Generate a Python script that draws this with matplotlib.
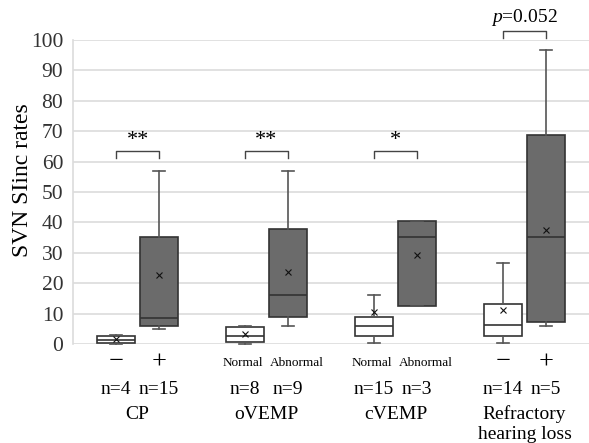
import matplotlib
matplotlib.use("Agg")
import matplotlib.pyplot as plt
import matplotlib.transforms as mtransforms

plt.rcParams['font.family'] = ['Liberation Serif', 'DejaVu Serif']
plt.rcParams['mathtext.fontset'] = 'custom'
plt.rcParams['mathtext.rm'] = 'Liberation Serif'
plt.rcParams['mathtext.it'] = 'Liberation Serif:italic'

# -----------------------------
# Data
# -----------------------------
groups = ["CP", "oVEMP", "cVEMP", "Refractory\nhearing loss"]
sub_labels = ["\u2212", "+", "Normal", "Abnormal", "Normal", "Abnormal", "\u2212", "+"]
n_labels = ["n=4", "n=15", "n=8", "n=9", "n=15", "n=3", "n=14", "n=5"]
positions = [0, 1, 3, 4, 6, 7, 9, 10]

whislo = [0.0, 4.9, 0.0, 6.0, 0.2, 12.5, 0.2, 6.0]
q1 = [0.3, 6.0, 0.5, 8.8, 2.6, 12.5, 2.5, 7.3]
med = [1.3, 8.7, 2.6, 16.0, 6.0, 35.3, 6.3, 35.3]
q3 = [2.5, 35.3, 5.7, 37.8, 8.9, 40.5, 13.2, 68.6]
whishi = [2.8, 56.9, 6.0, 56.9, 16.1, 40.5, 26.6, 96.7]
means = [1.5, 22.6, 3.3, 23.6, 10.6, 29.4, 11.2, 37.5]
fills = ["white", "#6b6b6b", "white", "#6b6b6b", "white", "#6b6b6b", "white", "#6b6b6b"]

# significance brackets
sig_left = [0, 3, 6, 9]
sig_right = [1, 4, 7, 10]
sig_height = [63.5, 63.5, 63.5, 102.8]
sig_text = ["**", "**", "*", "$p$=0.052"]

# -----------------------------
# Plot
# -----------------------------
fig = plt.figure(figsize=(5.89, 4.43), dpi=100)
ax = fig.add_axes([0.124, 0.2235, 0.876, 0.6862])

stats = []
for i in range(len(positions)):
    stats.append(dict(whislo=whislo[i], q1=q1[i], med=med[i], q3=q3[i],
                      whishi=whishi[i], mean=means[i]))

bp = ax.bxp(stats, positions=positions, widths=0.9, patch_artist=True,
            showmeans=True, showfliers=False,
            boxprops=dict(edgecolor="#333333", linewidth=1.2),
            medianprops=dict(color="#333333", linewidth=1.2),
            whiskerprops=dict(color="#555555", linewidth=1.2),
            capprops=dict(color="#555555", linewidth=1.2),
            meanprops=dict(marker="x", markeredgecolor="#111111", markersize=5,
                           markeredgewidth=0.8))
for patch, c in zip(bp['boxes'], fills):
    patch.set_facecolor(c)
for cap in bp['caps']:
    xd = cap.get_xdata()
    mid = (xd[0] + xd[1]) / 2
    cap.set_xdata([mid - 0.15, mid + 0.15])
for art in bp['whiskers'] + bp['caps']:
    art.set_clip_on(False)

ax.set_xlim(-1, 11)
ax.set_ylim(0, 100)
ax.set_yticks(range(0, 101, 10))
ax.tick_params(axis='y', length=0, labelsize=15.5, pad=7, labelcolor="#333333")
ax.set_xticks([])
ax.grid(axis='y', color="#dcdcdc", linewidth=1.2)
ax.set_axisbelow(True)
for s in ['top', 'right', 'bottom']:
    ax.spines[s].set_visible(False)
ax.spines['left'].set_color("#dcdcdc")
ax.spines['left'].set_linewidth(1.2)

ax.set_ylabel("SVN SIinc rates", fontsize=17, labelpad=0)
ax.yaxis.set_label_coords(-0.078, 0.54)

# brackets
for l, r, h, t in zip(sig_left, sig_right, sig_height, sig_text):
    ax.plot([l, l, r, r], [h - 2.2, h, h, h - 2.2], color="#444444", linewidth=1.0,
            clip_on=False)
    if t.startswith("$"):
        ax.text((l + r) / 2, h + 4.7, t, ha='center', va='center', fontsize=14)
    else:
        ax.text((l + r) / 2, h + 3.6, t, ha='center', va='center', fontsize=16)

# category labels below
trans = mtransforms.blended_transform_factory(ax.transData, ax.transAxes)
for p, s, n in zip(positions, sub_labels, n_labels):
    if s in ("\u2212", "+"):
        ax.text(p, -0.06, s, transform=trans, ha='center', va='center', fontsize=19)
    else:
        dx = -0.05 if s == "Normal" else 0.2
        ax.text(p + dx, -0.063, s, transform=trans, ha='center', va='center',
                fontsize=9.5)
    ax.text(p, -0.151, n, transform=trans, ha='center', va='center', fontsize=14)
for i, g in enumerate(groups):
    x = (positions[2 * i] + positions[2 * i + 1]) / 2
    for k, line in enumerate(g.split("\n")):
        ax.text(x, -0.232 - 0.067 * k, line, transform=trans, ha='center',
                va='center', fontsize=14)

fig.savefig("out.png", dpi=100)
